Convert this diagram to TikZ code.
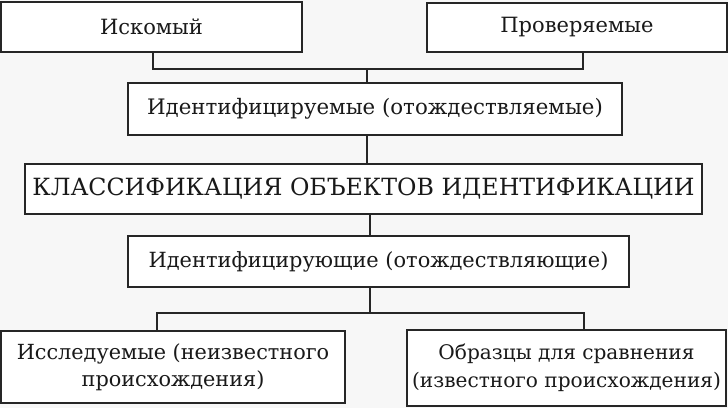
\documentclass[tikz,border=0pt]{standalone}
\usepackage{fontspec}
\setmainfont{DejaVu Serif}
\begin{document}
\begin{tikzpicture}[x=1pt,y=-1pt,
  box/.style={draw=black!85,line width=1.4pt,fill=white,inner sep=0pt,font=\fontsize{21}{27}\selectfont,text=black!90,align=center},
  conn/.style={draw=black!85,line width=1.3pt}]
\fill[white!97!black] (0,0) rectangle (728,408);
\useasboundingbox (0,0) rectangle (728,408);
\node[box,minimum width=301pt,minimum height=50pt] (b1) at (151.5,27) {Искомый};
\node[box,minimum width=300pt,minimum height=49pt] (b2) at (577,27.5) {Проверяемые};
\node[box,minimum width=494pt,minimum height=52pt,font=\fontsize{21.3}{27}\selectfont] (b3) at (375,109) {Идентифицируемые (отождествляемые)};
\node[box,minimum width=677pt,minimum height=50pt,font=\fontsize{23.7}{28}\selectfont] (b4) at (363.5,189) {КЛАССИФИКАЦИЯ ОБЪЕКТОВ ИДЕНТИФИКАЦИИ};
\node[box,minimum width=501pt,minimum height=51pt,font=\fontsize{20.9}{27}\selectfont] (b5) at (378.5,261.5) {Идентифицирующие (отождествляющие)};
\node[box,minimum width=344pt,minimum height=72pt,font=\fontsize{20.8}{27}\selectfont] (b6) at (173,367) {Исследуемые (неизвестного\\происхождения)};
\node[box,minimum width=319pt,minimum height=76pt,font=\fontsize{20.1}{28}\selectfont] (b7) at (566.5,368) {Образцы для сравнения\\(известного происхождения)};
\coordinate (j1) at (367,69);
\coordinate (j1l) at (153,69);
\coordinate (j1r) at (583,69);
\coordinate (j2) at (370,313);
\coordinate (j2l) at (157,313);
\coordinate (j2r) at (584,313);
\draw[conn] (b1.south -| j1l) -- (j1l) -- (j1r) -- (b2.south -| j1r);
\draw[conn] (j1) -- (b3.north -| j1);
\draw[conn] (b3.south -| j1) -- (b4.north -| j1);
\draw[conn] (b4.south -| j2) -- (b5.north -| j2);
\draw[conn] (b5.south -| j2) -- (j2);
\draw[conn] (b6.north -| j2l) -- (j2l) -- (j2r) -- (b7.north -| j2r);
\end{tikzpicture}
\end{document}
